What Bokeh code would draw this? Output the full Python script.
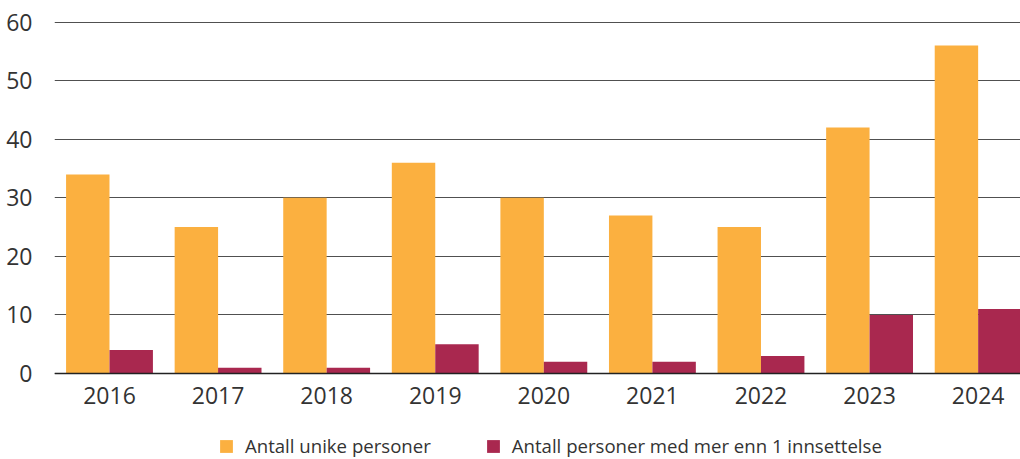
import numpy as np
from bokeh.plotting import figure
from bokeh.models import ColumnDataSource, Range1d, FixedTicker, Legend, LegendItem
from bokeh.embed import file_html
from bokeh.resources import INLINE

years = ["2016", "2017", "2018", "2019", "2020", "2021", "2022", "2023", "2024"]
unike = [34, 25, 30, 36, 30, 27, 25, 42, 56]
flere = [4, 1, 1, 5, 2, 2, 3, 10, 11]
series_names = ["Antall unike personer", "Antall personer med mer enn 1 innsettelse"]
colors = ["#FBB040", "#A9284F"]
yticks = [0, 10, 20, 30, 40, 50, 60]

idx = np.arange(len(years))
src = ColumnDataSource(dict(
    x1=idx - 0.2, x2=idx + 0.2, unike=unike, flere=flere, year=years))

FONT = "Open Sans"
TXT = "#333333"

p = figure(width=1020, height=459, output_backend="svg", toolbar_location=None,
           x_range=Range1d(-0.5065, 8.39), y_range=Range1d(-14.69, 60.12),
           min_border_left=54, min_border_right=0, min_border_top=21,
           min_border_bottom=0)
p.outline_line_color = None
p.background_fill_color = "white"
p.border_fill_color = "white"

r1 = p.vbar(x="x1", top="unike", bottom=0, width=0.4, source=src, color=colors[0], line_color=None)
r2 = p.vbar(x="x2", top="flere", bottom=0, width=0.4, source=src, color=colors[1], line_color=None)

# axes
p.xaxis.fixed_location = 0
p.xaxis.ticker = FixedTicker(ticks=list(idx))
p.xaxis.major_label_overrides = {int(i): y for i, y in zip(idx, years)}
p.xaxis.major_tick_line_color = None
p.xaxis.minor_tick_line_color = None
p.xaxis.axis_line_color = "#222222"
p.xaxis.axis_line_width = 1.3
p.xaxis.major_label_text_font = FONT
p.xaxis.major_label_text_font_size = "23px"
p.xaxis.major_label_text_color = TXT
p.xaxis.major_label_standoff = 8

p.yaxis.ticker = FixedTicker(ticks=yticks)
p.yaxis.axis_line_color = None
p.yaxis.major_tick_line_color = None
p.yaxis.minor_tick_line_color = None
p.yaxis.major_label_text_font = FONT
p.yaxis.major_label_text_font_size = "23px"
p.yaxis.major_label_text_color = TXT
p.yaxis.major_label_standoff = 16

p.xgrid.grid_line_color = None
p.ygrid.grid_line_color = "#505050"
p.ygrid.grid_line_width = 1.2

legend = Legend(items=[LegendItem(label=series_names[0], renderers=[r1]),
                       LegendItem(label=series_names[1], renderers=[r2])],
                orientation="horizontal", location=(164, 1),
                label_text_font=FONT, label_text_font_size="18.6px",
                label_text_color=TXT, glyph_width=16, glyph_height=16,
                label_standoff=11, spacing=54, padding=0, margin=0,
                border_line_color=None, background_fill_alpha=0)
p.add_layout(legend, "center")

open("out.html", "w").write(file_html(p, INLINE))
